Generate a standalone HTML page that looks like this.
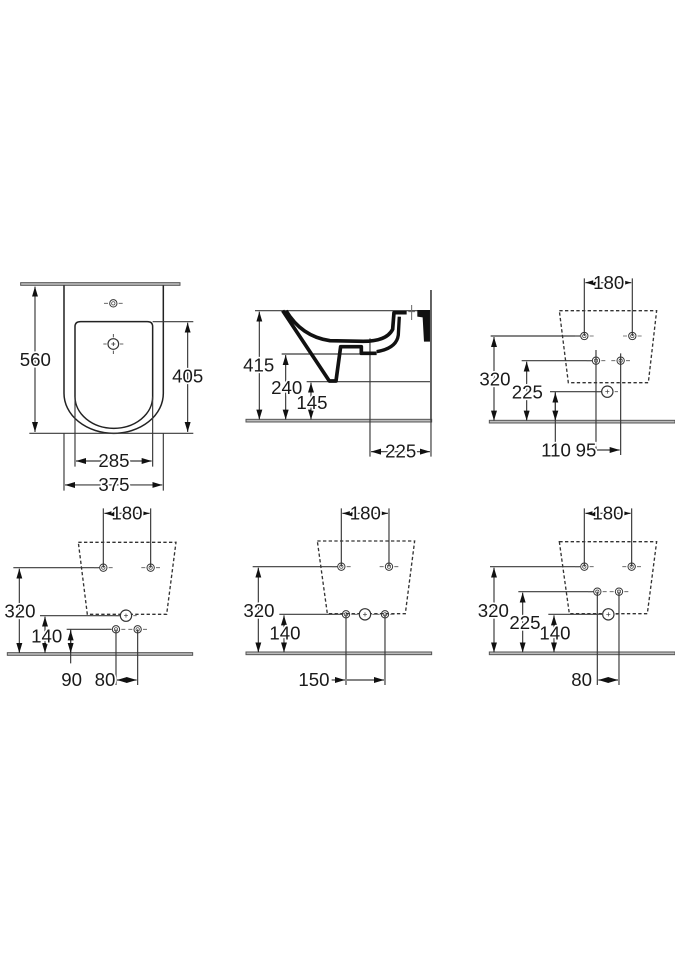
<!DOCTYPE html>
<html><head><meta charset="utf-8"><style>
html,body{margin:0;padding:0;background:#fff}
svg{display:block}
.d{stroke:#3a3a3a;stroke-width:3.5;fill:none}
.o{stroke:#222;stroke-width:4.5;fill:none}
.t{font-family:"Liberation Sans",sans-serif;font-size:56px;fill:#1a1a1a;stroke:#fff;stroke-width:10px;paint-order:stroke;text-anchor:middle}
.dash{stroke:#333;stroke-width:4;fill:none;stroke-dasharray:10 7}
.fl{fill:#bbb;stroke:#555;stroke-width:3}
</style></head><body>
<svg width="675" height="960" viewBox="0 0 675 960" xmlns="http://www.w3.org/2000/svg">
<defs>
<marker id="a" markerUnits="userSpaceOnUse" markerWidth="32" markerHeight="20" refX="30" refY="9" orient="auto-start-reverse" viewBox="0 0 32 20"><path d="M0,0 L30,9 L0,18 z" fill="#111"/></marker>
<g id="h"><circle r="11" fill="none" stroke="#333" stroke-width="3"/><circle r="5" fill="none" stroke="#333" stroke-width="2"/><path d="M-28,0 H-16 M16,0 H28" stroke="#555" stroke-width="2.5"/></g>
<g id="hb"><circle r="17" fill="#fff" stroke="#333" stroke-width="3.5"/><path d="M-6,0 H6 M0,-6 V6" stroke="#333" stroke-width="2"/><path d="M-32,0 H-22 M22,0 H32" stroke="#555" stroke-width="2.5"/></g>
</defs>

<!-- Panel 1 -->
<g transform="translate(0,260) scale(0.3333)">
<rect x="62" y="68" width="478" height="8" class="fl"/>
<path class="o" d="M192,76 L192,400 A149,120 0 0 0 490,400 L490,76"/>
<path class="o" d="M225,200 Q225,185 242,185 L442,185 Q458,185 458,200 L458,410 A116.5,95 0 0 1 225,410 Z"/>
<use href="#h" x="340" y="130"/>
<g transform="translate(340,252)"><circle r="16" fill="none" stroke="#333" stroke-width="3.5"/><path d="M-6,0 H6 M0,-6 V6 M-30,0 H-20 M20,0 H30 M0,-30 V-20 M0,20 V30" stroke="#333" stroke-width="2.5"/></g>
<path class="d" d="M88,520 H580 M458,185 H580"/>
<line class="d" x1="105" y1="80" x2="105" y2="516" marker-start="url(#a)" marker-end="url(#a)"/>
<line class="d" x1="563" y1="188" x2="563" y2="516" marker-start="url(#a)" marker-end="url(#a)"/>
<path class="d" d="M225,410 V620 M458,410 V620 M192,520 V692 M490,520 V692"/>
<line class="d" x1="228" y1="603" x2="455" y2="603" marker-start="url(#a)" marker-end="url(#a)"/>
<line class="d" x1="195" y1="675" x2="487" y2="675" marker-start="url(#a)" marker-end="url(#a)"/>
<text class="t" x="106" y="318">560</text>
<text class="t" x="563" y="368">405</text>
<text class="t" x="342" y="621">285</text>
<text class="t" x="342" y="693">375</text>
</g>

<!-- Panel 2 -->
<g transform="translate(230,270) scale(0.3333)">
<rect x="48" y="448" width="557" height="8" class="fl"/>
<line x1="603" y1="60" x2="603" y2="452" stroke="#444" stroke-width="5"/>
<path class="d" d="M75,122 H600 M155,252 H400 M230,335 H600 M420,205 V560 M603,452 V560"/>
<path d="M158,122 L298,333 L318,333 L332,230 L394,230 L394,250 L440,250" fill="none" stroke="#111" stroke-width="11" stroke-linejoin="round"/>
<path d="M168,122 Q215,200 300,212 L400,214 Q470,214 488,178 L492,128 L530,128" fill="none" stroke="#111" stroke-width="11" stroke-linejoin="round"/>
<path d="M440,245 Q500,235 505,195 L508,140" fill="none" stroke="#111" stroke-width="10"/>
<path d="M562,120 L600,120 L600,215 L582,215 L578,142 L562,140 Z" fill="#111"/>
<path d="M545,105 V150 M535,125 H555" stroke="#666" stroke-width="3"/>
<line class="d" x1="88" y1="125" x2="88" y2="449" marker-start="url(#a)" marker-end="url(#a)"/>
<line class="d" x1="167" y1="255" x2="167" y2="449" marker-start="url(#a)" marker-end="url(#a)"/>
<line class="d" x1="243" y1="338" x2="243" y2="449" marker-start="url(#a)" marker-end="url(#a)"/>
<line class="d" x1="423" y1="545" x2="600" y2="545" marker-start="url(#a)" marker-end="url(#a)"/>
<text class="t" x="86" y="305">415</text>
<text class="t" x="170" y="372">240</text>
<text class="t" x="246" y="417">145</text>
<text class="t" x="512" y="563">225</text>
</g>

<!-- Panel 3 -->
<g transform="translate(470,260) scale(0.3333)">
<rect x="58" y="481" width="557" height="8" class="fl"/>
<path class="dash" d="M268,152 L560,152 L535,368 L295,368 Z"/>
<path class="d" d="M343,55 V228 M487,55 V228 M62,228 H330 M155,302 H366 M240,395 H398 M378,270 V585 M452,280 V585 M256,395 V560"/>
<use href="#h" x="343" y="228"/><use href="#h" x="487" y="228"/>
<use href="#h" x="378" y="302"/><use href="#h" x="452" y="302"/>
<use href="#hb" x="412" y="395"/>
<line class="d" x1="346" y1="68" x2="484" y2="68" marker-start="url(#a)" marker-end="url(#a)"/>
<line class="d" x1="72" y1="231" x2="72" y2="482" marker-start="url(#a)" marker-end="url(#a)"/>
<line class="d" x1="170" y1="305" x2="170" y2="482" marker-start="url(#a)" marker-end="url(#a)"/>
<line class="d" x1="256" y1="398" x2="256" y2="482" marker-start="url(#a)" marker-end="url(#a)"/>
<line class="d" x1="381" y1="570" x2="449" y2="570" marker-end="url(#a)"/>
<text class="t" x="416" y="87">180</text>
<text class="t" x="75" y="376">320</text>
<text class="t" x="172" y="416">225</text>
<text class="t" x="258" y="590">110</text>
<text class="t" x="348" y="590">95</text>
</g>

<!-- Panel 4 -->
<g transform="translate(0,495) scale(0.3333)">
<rect x="22" y="473" width="556" height="8" class="fl"/>
<path class="dash" d="M235,142 L528,142 L500,358 L262,358 Z"/>
<path class="d" d="M310,40 V218 M452,40 V218 M40,218 H298 M120,362 H360 M200,403 H335 M348,403 V570 M413,403 V570 M212,403 V505"/>
<use href="#h" x="310" y="218"/><use href="#h" x="452" y="218"/>
<use href="#hb" x="378" y="362"/>
<use href="#h" x="348" y="403"/><use href="#h" x="413" y="403"/>
<line class="d" x1="313" y1="55" x2="449" y2="55" marker-start="url(#a)" marker-end="url(#a)"/>
<line class="d" x1="58" y1="221" x2="58" y2="474" marker-start="url(#a)" marker-end="url(#a)"/>
<line class="d" x1="135" y1="365" x2="135" y2="474" marker-start="url(#a)" marker-end="url(#a)"/>
<line class="d" x1="212" y1="406" x2="212" y2="474" marker-start="url(#a)" marker-end="url(#a)"/>
<line class="d" x1="351" y1="555" x2="410" y2="555" marker-start="url(#a)" marker-end="url(#a)"/>
<text class="t" x="381" y="74">180</text>
<text class="t" x="60" y="368">320</text>
<text class="t" x="140" y="442">140</text>
<text class="t" x="215" y="573">90</text>
<text class="t" x="315" y="573">80</text>
</g>

<!-- Panel 5 -->
<g transform="translate(240,495) scale(0.3333)">
<rect x="18" y="471" width="557" height="8" class="fl"/>
<path class="dash" d="M232,138 L524,138 L496,356 L262,356 Z"/>
<path class="d" d="M304,40 V215 M447,40 V215 M38,215 H292 M118,358 H306 M318,358 V570 M435,358 V570"/>
<use href="#h" x="304" y="215"/><use href="#h" x="447" y="215"/>
<use href="#h" x="318" y="358"/><use href="#hb" x="375" y="358"/><use href="#h" x="435" y="358"/>
<line class="d" x1="307" y1="55" x2="444" y2="55" marker-start="url(#a)" marker-end="url(#a)"/>
<line class="d" x1="55" y1="218" x2="55" y2="472" marker-start="url(#a)" marker-end="url(#a)"/>
<line class="d" x1="132" y1="361" x2="132" y2="472" marker-start="url(#a)" marker-end="url(#a)"/>
<line class="d" x1="275" y1="555" x2="315" y2="555" marker-end="url(#a)"/>
<line class="d" x1="321" y1="555" x2="432" y2="555" marker-end="url(#a)"/>
<text class="t" x="376" y="74">180</text>
<text class="t" x="57" y="366">320</text>
<text class="t" x="135" y="433">140</text>
<text class="t" x="222" y="573">150</text>
</g>

<!-- Panel 6 -->
<g transform="translate(480,495) scale(0.3333)">
<rect x="28" y="471" width="557" height="8" class="fl"/>
<path class="dash" d="M238,140 L530,140 L502,356 L268,356 Z"/>
<path class="d" d="M313,40 V215 M455,40 V215 M30,215 H300 M115,290 H340 M205,358 H366 M352,290 V570 M417,290 V570"/>
<use href="#h" x="313" y="215"/><use href="#h" x="455" y="215"/>
<use href="#h" x="352" y="290"/><use href="#h" x="417" y="290"/>
<use href="#hb" x="385" y="358"/>
<line class="d" x1="316" y1="55" x2="452" y2="55" marker-start="url(#a)" marker-end="url(#a)"/>
<line class="d" x1="42" y1="218" x2="42" y2="472" marker-start="url(#a)" marker-end="url(#a)"/>
<line class="d" x1="128" y1="293" x2="128" y2="472" marker-start="url(#a)" marker-end="url(#a)"/>
<line class="d" x1="222" y1="361" x2="222" y2="472" marker-start="url(#a)" marker-end="url(#a)"/>
<line class="d" x1="355" y1="555" x2="414" y2="555" marker-start="url(#a)" marker-end="url(#a)"/>
<text class="t" x="384" y="74">180</text>
<text class="t" x="40" y="366">320</text>
<text class="t" x="135" y="402">225</text>
<text class="t" x="225" y="433">140</text>
<text class="t" x="305" y="573">80</text>
</g>
</svg>
</body></html>
